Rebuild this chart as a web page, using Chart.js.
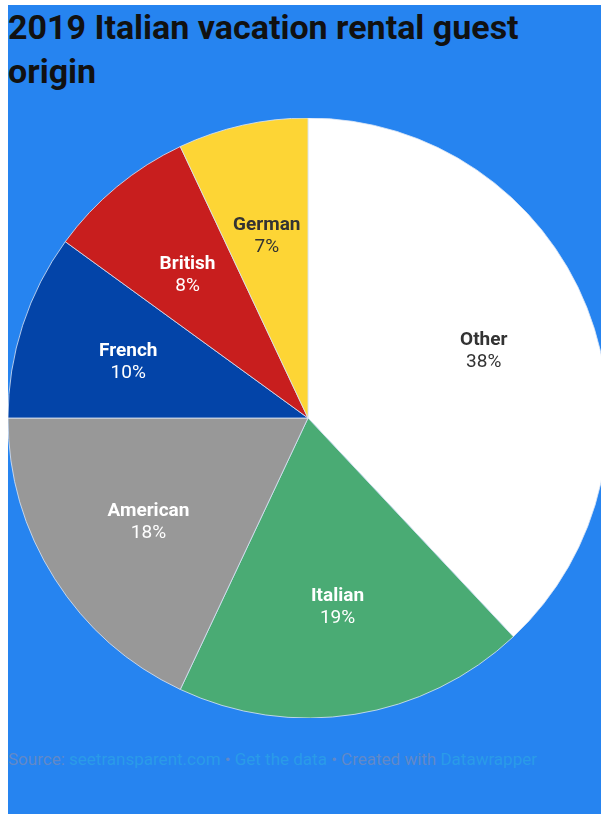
<!DOCTYPE html>
<html>
<head>
<meta charset="utf-8">
<script src="https://cdn.jsdelivr.net/npm/chart.js@4"></script>
<style>
html, body { margin: 0; padding: 0; width: 601px; height: 814px; overflow: hidden; background: #ffffff; }
#frame { position: absolute; left: 8px; top: 5px; width: 620px; height: 820px; background: #2684f0; }
#title { position: absolute; left: 8px; top: 5px; width: 560px; font-family: Roboto, "Liberation Sans", sans-serif; font-weight: 700; font-size: 34px; line-height: 44px; color: #111111; }
#chartbox { position: absolute; left: 8px; top: 118px; width: 600px; height: 600px; }
#footer { position: absolute; left: 8px; top: 749px; font-family: Roboto, "Liberation Sans", sans-serif; font-size: 17px; color: #6189c8; white-space: nowrap; }
#footer .lnk { color: #2a9be8; }
</style>
</head>
<body>
<div id="frame"></div>
<div id="title">2019 Italian vacation rental guest origin</div>
<div id="chartbox"><canvas id="c" width="600" height="600"></canvas></div>
<div id="footer">Source: <span class="lnk">seetransparent.com</span> • <span class="lnk">Get the data</span> • Created with <span class="lnk">Datawrapper</span></div>
<script>
const categories = ["Other", "Italian", "American", "French", "British", "German"];
const shares = [38, 19, 18, 10, 8, 7];
const percentLabels = ["38%", "19%", "18%", "10%", "8%", "7%"];
const sliceColors = ["#ffffff", "#4aab74", "#989898", "#0344a8", "#c81e1e", "#fdd535"];
const labelColors = ["#333333", "#ffffff", "#ffffff", "#ffffff", "#ffffff", "#333333"];

const sliceLabels = {
  id: "sliceLabels",
  afterDatasetsDraw(chart) {
    const ctx = chart.ctx;
    const meta = chart.getDatasetMeta(0);
    meta.data.forEach((arc, i) => {
      const mid = (arc.startAngle + arc.endAngle) / 2;
      const r = arc.outerRadius * 0.63;
      const x = arc.x + Math.cos(mid) * r;
      const y = arc.y + Math.sin(mid) * r;
      ctx.save();
      ctx.fillStyle = labelColors[i];
      ctx.textAlign = "center";
      ctx.textBaseline = "middle";
      ctx.font = "700 19px Roboto, 'Liberation Sans', sans-serif";
      ctx.fillText(categories[i], x, y - 8);
      ctx.font = "400 19px Roboto, 'Liberation Sans', sans-serif";
      ctx.fillText(percentLabels[i], x, y + 14);
      ctx.restore();
    });
  }
};

new Chart(document.getElementById("c"), {
  type: "pie",
  data: {
    labels: categories,
    datasets: [{
      data: shares,
      backgroundColor: sliceColors,
      borderColor: "rgba(220,230,245,0.8)",
      borderWidth: 1,
      radius: 300
    }]
  },
  options: {
    responsive: false,
    animation: false,
    layout: { padding: 0 },
    plugins: { legend: { display: false }, tooltip: { enabled: false }, title: { display: false } }
  },
  plugins: [sliceLabels]
});
</script>
</body>
</html>
